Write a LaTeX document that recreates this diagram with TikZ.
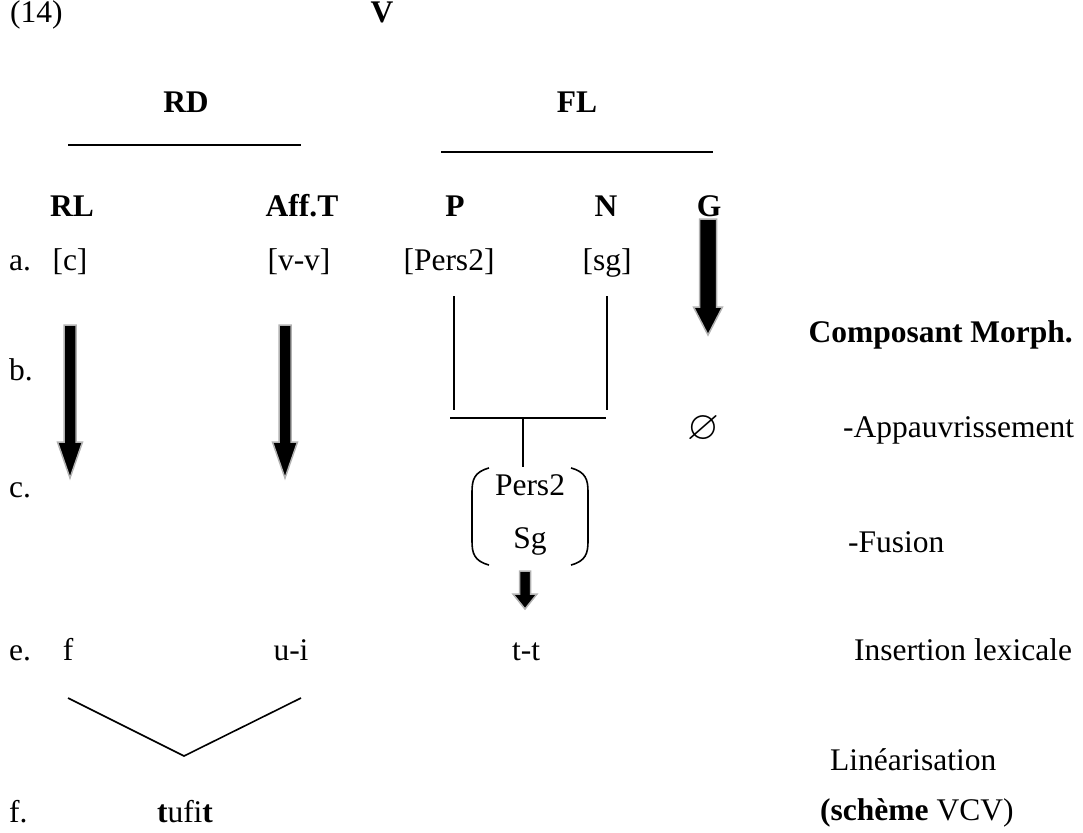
\documentclass[tikz,border=0pt]{standalone}
\usepackage{fontspec}
\setmainfont{Liberation Serif}
\usepackage{amssymb}
\usetikzlibrary{calc}
\tikzset{
  txt/.style={anchor=base, inner sep=0pt, font=\fontsize{31.5}{38}\selectfont},
  lbl/.style={txt, anchor=base west},
  bld/.style={txt, font=\fontsize{31.5}{38}\selectfont\bfseries},
  ln/.style={line width=1.6pt},
  arrowfill/.style={fill=black, draw=black!30, line width=1.5pt, line join=miter},
}
\newcommand{\blockarr}[5]{%
  \filldraw[arrowfill] ($(#1)+(-#3,0)$) -- ($(#1)+(#3,0)$) -- ($(#2)+(#3,-#5)$) -- ($(#2)+(#4,-#5)$) -- (#2) -- ($(#2)+(-#4,-#5)$) -- ($(#2)+(-#3,-#5)$) -- cycle;}
\begin{document}
\begin{tikzpicture}[x=1pt,y=-1pt]
\useasboundingbox (0,0) rectangle (1083,832);
% title
\node[lbl] (n14) at (10,23) {(14)};
\node[bld] (V) at (382,23) {V};
% RD / FL
\node[bld] (RD) at (186,113) {RD};
\node[bld] (FL) at (577,113) {FL};
\coordinate (rdL) at (68,145); \coordinate (rdR) at (301,145);
\coordinate (flL) at (441,152); \coordinate (flR) at (713,152);
\draw[ln] (rdL) -- (rdR);
\draw[ln] (flL) -- (flR);
% headers
\node[bld] (RL) at (72,216) {RL};
\node[bld] (AffT) at (302,216) {Aff.T};
\node[bld] (P) at (455,216) {P};
\node[bld] (N) at (606,216) {N};
\node[bld] (G) at (709,216) {G};
% row a
\node[lbl] (a) at (9,270) {a.};
\node[txt] (c) at (70,270) {[c]};
\node[txt] (vv) at (299,270) {[v-v]};
\node[txt] (Pers) at (449,270) {[Pers2]};
\node[txt] (sg) at (607,270) {[sg]};
% G arrow
\coordinate (gT) at (708,219); \coordinate (gB) at (708,335);
\blockarr{gT}{gB}{8.5}{14.5}{28}
\node[bld, anchor=base east] (CM) at (1073,342) {Composant Morph.};
% row b
\node[lbl] (b) at (9,380) {b.};
% big arrows
\coordinate (rlT) at (70,325); \coordinate (rlB) at (70,478);
\blockarr{rlT}{rlB}{6}{12.5}{36}
\coordinate (afT) at (285,325); \coordinate (afB) at (285,478);
\blockarr{afT}{afB}{6}{12.5}{36}
% tree lines
\coordinate (pT) at (454,296); \coordinate (pB) at (454,410);
\coordinate (nT) at (607,296); \coordinate (nB) at (607,410);
\coordinate (hL) at (450,418); \coordinate (hR) at (606,418);
\coordinate (mT) at (523,418); \coordinate (mB) at (523,467);
\draw[ln] (pT) -- (pB);
\draw[ln] (nT) -- (nB);
\draw[ln] (hL) -- (hR);
\draw[ln] (mT) -- (mB);
% empty set
\node[txt, scale=1.3] (empty) at (703,439) {$\varnothing$};
\node[lbl] (app) at (843,437) {-Appauvrissement};
% row c
\node[lbl] (crow) at (9,497) {c.};
\node[txt] (Pers2) at (530,495) {Pers2};
\node[txt] (Sg) at (530,548) {Sg};
\draw[ln] (489,468) .. controls (474,472) and (472,480) .. (472,492) -- (472,541)
   .. controls (472,553) and (474,561) .. (489,565);
\draw[ln] (571,468) .. controls (586,472) and (588,480) .. (588,492) -- (588,541)
   .. controls (588,553) and (586,561) .. (571,565);
\node[lbl] (fus) at (848,552) {-Fusion};
% small arrow
\coordinate (sT) at (525,571); \coordinate (sB) at (525,609);
\blockarr{sT}{sB}{5.5}{12}{15}
% row e
\node[lbl] (e) at (9,660) {e.};
\node[txt] (f) at (68,660) {f};
\node[txt] (ui) at (291,660) {u-i};
\node[txt] (tt) at (526,660) {t-t};
\node[lbl] (ins) at (854,660) {Insertion lexicale};
% V lines
\coordinate (vL) at (68,698); \coordinate (vA) at (184,756); \coordinate (vR) at (301,698);
\draw[ln] (vL) -- (vA) -- (vR);
\node[lbl] (lin) at (830,770) {Linéarisation};
% row f
\node[lbl] (frow) at (9,822) {f.};
\node[txt] (tufit) at (185,822) {\textbf{t}ufi\textbf{t}};
\node[lbl] (sch) at (820,820) {\textbf{(schème} VCV)};
\end{tikzpicture}
\end{document}
